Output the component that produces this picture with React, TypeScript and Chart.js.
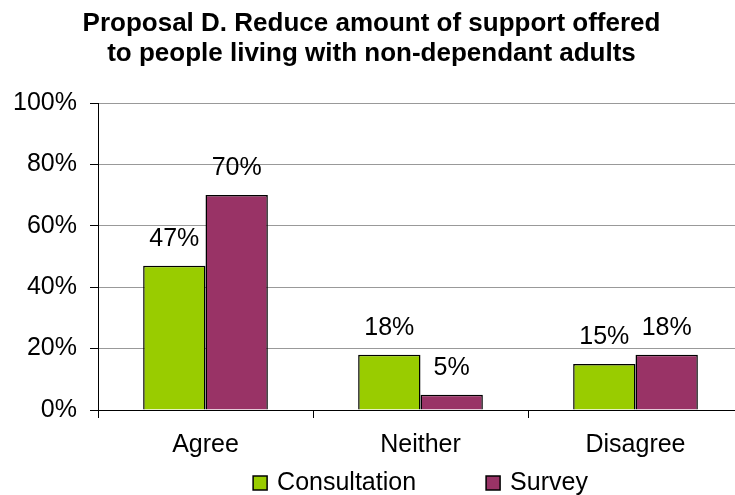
import React, { useEffect, useRef } from "react";
import { Chart, registerables } from "chart.js";

Chart.register(...registerables);

const titleLines = [
  "Proposal D. Reduce amount of support offered",
  "to people living with non-dependant adults",
];
const categories = ["Agree", "Neither", "Disagree"];
const consultation = [47, 18, 15];
const survey = [70, 5, 18];
const seriesNames = ["Consultation", "Survey"];
const seriesColors = ["#99CC00", "#993366"];
const yTicks = [0, 20, 40, 60, 80, 100];

const FONT = '"Liberation Sans", Arial, sans-serif';

const valueLabels = {
  id: "valueLabels",
  afterDatasetsDraw(chart: any) {
    const ctx = chart.ctx;
    ctx.save();
    ctx.font = `25px ${FONT}`;
    ctx.fillStyle = "#000";
    ctx.textAlign = "center";
    ctx.textBaseline = "alphabetic";
    chart.data.datasets.forEach((ds: any, i: number) => {
      const meta = chart.getDatasetMeta(i);
      meta.data.forEach((bar: any, j: number) => {
        ctx.fillText(ds.data[j] + "%", bar.x, bar.y - 20);
      });
    });
    ctx.restore();
  },
};

const bottomLegend = {
  id: "bottomLegend",
  afterDraw(chart: any) {
    const ctx = chart.ctx;
    const area = chart.chartArea;
    ctx.save();
    ctx.font = `25px ${FONT}`;
    const box = 14;
    const textGap = 10;
    const itemGap = 70;
    const items = chart.data.datasets.map((ds: any) => ({
      label: ds.label,
      color: ds.backgroundColor,
      w: ctx.measureText(ds.label).width,
    }));
    const total =
      items.reduce((s: number, it: any) => s + box + textGap + it.w, 0) +
      itemGap * (items.length - 1);
    let x = (area.left + area.right) / 2 - total / 2;
    const baseline = 490;
    items.forEach((it: any) => {
      ctx.fillStyle = it.color;
      ctx.fillRect(x, baseline - box, box, box);
      ctx.strokeStyle = "#000";
      ctx.lineWidth = 1.5;
      ctx.strokeRect(x, baseline - box, box, box);
      ctx.fillStyle = "#000";
      ctx.textAlign = "left";
      ctx.textBaseline = "alphabetic";
      ctx.fillText(it.label, x + box + textGap, baseline);
      x += box + textGap + it.w + itemGap;
    });
    ctx.restore();
  },
};

export default function App() {
  const ref = useRef<HTMLCanvasElement | null>(null);

  useEffect(() => {
    if (!ref.current) return;
    const chart = new Chart(ref.current, {
      type: "bar",
      data: {
        labels: categories,
        datasets: [
          {
            label: seriesNames[0],
            data: consultation,
            backgroundColor: seriesColors[0],
            borderColor: "#000",
            borderWidth: 1.5,
            categoryPercentage: 0.58,
            barPercentage: 1,
          },
          {
            label: seriesNames[1],
            data: survey,
            backgroundColor: seriesColors[1],
            borderColor: "#000",
            borderWidth: 1.5,
            categoryPercentage: 0.58,
            barPercentage: 1,
          },
        ],
      },
      options: {
        responsive: false,
        animation: false,
        layout: { padding: { left: 0, right: 7, top: 0, bottom: 0 } },
        plugins: {
          legend: { display: false },
          tooltip: { enabled: false },
          title: {
            display: true,
            text: titleLines,
            color: "#000",
            font: { family: FONT, size: 26, weight: "bold", lineHeight: 30 / 26 },
            padding: { top: 9, bottom: 34 },
          },
        },
        scales: {
          x: {
            grid: {
              display: true,
              drawOnChartArea: false,
              drawTicks: true,
              tickLength: 8,
              tickColor: "#000",
              tickWidth: 1,
            },
            border: { display: true, color: "#000", width: 1 },
            ticks: {
              color: "#000",
              font: { family: FONT, size: 25 },
              padding: 12,
            },
            afterFit: (scale: any) => {
              scale.height = 85;
            },
          },
          y: {
            min: 0,
            max: 100,
            afterBuildTicks: (scale: any) => {
              scale.ticks = yTicks.map((v) => ({ value: v }));
            },
            grid: {
              color: "#999",
              lineWidth: 1,
              drawTicks: true,
              tickLength: 8,
              tickColor: "#000",
            },
            border: { display: true, color: "#000", width: 1 },
            ticks: {
              color: "#000",
              font: { family: FONT, size: 25 },
              padding: 13,
              callback: (v: any) => v + "%",
            },
            afterFit: (scale: any) => {
              scale.width = 98;
            },
          },
        },
      },
      plugins: [valueLabels, bottomLegend],
    });
    return () => chart.destroy();
  }, []);

  return (
    <div
      style={{
        position: "fixed",
        left: 0,
        top: 0,
        width: 735,
        height: 495,
        overflow: "hidden",
        background: "#fff",
      }}
    >
      <canvas ref={ref} width={750} height={495} style={{ display: "block" }} />
    </div>
  );
}
